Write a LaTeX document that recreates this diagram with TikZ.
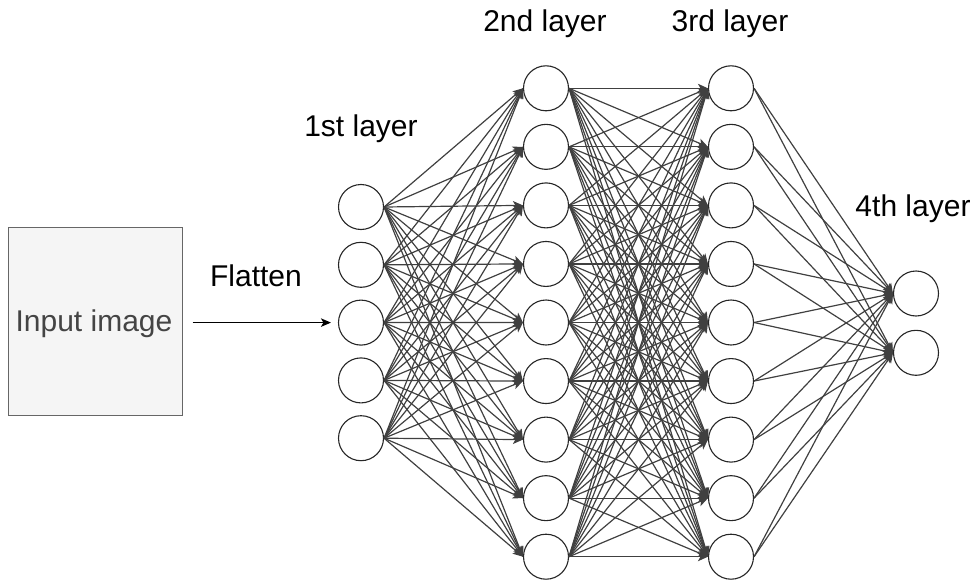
\documentclass[tikz,border=0pt]{standalone}
\usepackage{fontspec}
\setmainfont{Liberation Sans}
\usetikzlibrary{arrows.meta}
\definecolor{boxfill}{HTML}{F5F5F5}
\definecolor{boxline}{HTML}{666666}
\definecolor{boxtext}{HTML}{444444}
\begin{document}
\begin{tikzpicture}[x=1pt,y=-1pt,
  neuron/.style={circle, draw=black!85, line width=1.1pt, fill=white,
                 minimum size=45pt, inner sep=0pt},
  link/.style={draw=black!75, line width=1.2pt,
               -{Stealth[length=10pt,width=9pt,inset=2.5pt]}},
  caption/.style={font=\fontsize{30}{36}\selectfont, anchor=base, inner sep=0pt},
  inputbox/.style={draw=boxline, fill=boxfill, line width=1pt,
                   minimum width=174pt, minimum height=188pt, inner sep=0pt},
]
\useasboundingbox (0,0) rectangle (976,583);

% input image and flatten arrow
\node[inputbox] (img) at (95,321.5) {};
\node[caption, text=boxtext] (imgtext) at (94,331.5) {Input image};

% layer 1 (5 neurons)
\foreach \i in {1,...,5}
  \node[neuron] (a\i) at (361, {207+(\i-1)*57.8}) {};
% layers 2 and 3 (9 neurons each)
\foreach \i in {1,...,9} {
  \node[neuron] (b\i) at (546, {88.3+(\i-1)*58.55}) {};
  \node[neuron] (c\i) at (731, {88.3+(\i-1)*58.55}) {};
}
% layer 4 (2 neurons)
\node[neuron] (d1) at (916, 293.5) {};
\node[neuron] (d2) at (916, 352.8) {};

\coordinate (flatstart) at ([xshift=10pt]img.east |- a3.west);
\draw[line width=1.1pt, -{Stealth[length=10pt,width=8.5pt,inset=2.5pt]}]
  (flatstart) -- ([xshift=-7pt]a3.west);

% full connections between consecutive layers
\foreach \i in {1,...,5}
  \foreach \j in {1,...,9}
    \draw[link] (a\i.east) -- (b\j.west);
\foreach \i in {1,...,9}
  \foreach \j in {1,...,9}
    \draw[link] (b\i.east) -- (c\j.west);
\foreach \i in {1,...,9}
  \foreach \j in {1,2}
    \draw[link] (c\i.east) -- (d\j.west);

% labels
\node[caption] (lflat) at (256,286) {Flatten};
\node[caption] (l1) at (361,136.5) {1st layer};
\node[caption] (l2) at (545,32) {2nd layer};
\node[caption] (l3) at (730,32) {3rd layer};
\node[caption] (l4) at (913,216) {4th layer};
\end{tikzpicture}
\end{document}
